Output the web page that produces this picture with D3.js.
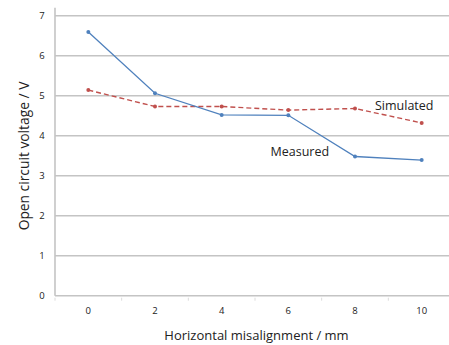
<!DOCTYPE html>
<html><head><meta charset="utf-8">
<script src="https://cdn.jsdelivr.net/npm/d3@7"></script>
<style>body{margin:0;background:#fff}svg{display:block}text{font-family:"Open Sans",sans-serif;fill:#222}</style>
</head><body><svg id="c" width="449" height="345"></svg>
<script>
const categories = [0, 2, 4, 6, 8, 10];
const measured = [6.59, 5.06, 4.52, 4.51, 3.48, 3.39];
const simulated = [5.14, 4.73, 4.73, 4.64, 4.68, 4.32];
const yTicks = [0, 1, 2, 3, 4, 5, 6, 7];

const svg = d3.select("#c");
const x = d3.scaleBand().domain(categories).range([55, 455]);
const y = d3.scaleLinear().domain([0, 7]).range([295.7, 15.7]);
const cx = d => x(d) + x.bandwidth() / 2;

// gridlines
svg.append("g").selectAll("line").data(yTicks.slice(1)).join("line")
  .attr("x1", 55).attr("x2", 449).attr("y1", d => y(d)).attr("y2", d => y(d))
  .attr("stroke", "#c4c4c4").attr("stroke-width", 1.6);
// axes lines
svg.append("line").attr("x1", 55).attr("x2", 449).attr("y1", y(0)).attr("y2", y(0))
  .attr("stroke", "#c4c4c4").attr("stroke-width", 1.6);
svg.append("line").attr("x1", 55).attr("x2", 55).attr("y1", y(7) - 8).attr("y2", y(0))
  .attr("stroke", "#c4c4c4").attr("stroke-width", 1.6);
// x tick marks at band boundaries
svg.append("g").selectAll("line").data(categories).join("line")
  .attr("x1", d => x(d)).attr("x2", d => x(d)).attr("y1", y(0) + 2).attr("y2", y(0) + 5)
  .attr("stroke", "#dcdcdc").attr("stroke-width", 1);

// y tick labels
svg.append("g").selectAll("text").data(yTicks).join("text")
  .attr("x", 42).attr("y", d => y(d) + 3.5).attr("text-anchor", "middle")
  .attr("font-size", 9.5).text(d => d);
// x tick labels
svg.append("g").selectAll("text").data(categories).join("text")
  .attr("x", d => cx(d)).attr("y", 313.5).attr("text-anchor", "middle")
  .attr("font-size", 9.5).text(d => d);

// axis titles
svg.append("text").attr("x", 256.5).attr("y", 339.5).attr("text-anchor", "middle")
  .attr("font-size", 13).text("Horizontal misalignment / mm");
svg.append("text").attr("transform", "translate(28.5,156) rotate(-90)").attr("text-anchor", "middle")
  .attr("font-size", 13.8).text("Open circuit voltage / V");

// lines
const line = d3.line().x((d, i) => cx(categories[i])).y(d => y(d));
svg.append("path").datum(simulated).attr("d", line).attr("fill", "none")
  .attr("stroke", "#c0504d").attr("stroke-width", 1.4).attr("stroke-dasharray", "5,3");
svg.append("path").datum(measured).attr("d", line).attr("fill", "none")
  .attr("stroke", "#4f81bd").attr("stroke-width", 1.3);
svg.append("g").selectAll("circle").data(simulated).join("circle")
  .attr("cx", (d, i) => cx(categories[i])).attr("cy", d => y(d)).attr("r", 2)
  .attr("fill", "#c0504d");
svg.append("g").selectAll("circle").data(measured).join("circle")
  .attr("cx", (d, i) => cx(categories[i])).attr("cy", d => y(d)).attr("r", 2)
  .attr("fill", "#4f81bd");

// labels
svg.append("text").attr("x", 375).attr("y", 109.5).attr("font-size", 12.5).text("Simulated");
svg.append("text").attr("x", 270.5).attr("y", 156).attr("font-size", 12.5).text("Measured");
</script></body></html>
